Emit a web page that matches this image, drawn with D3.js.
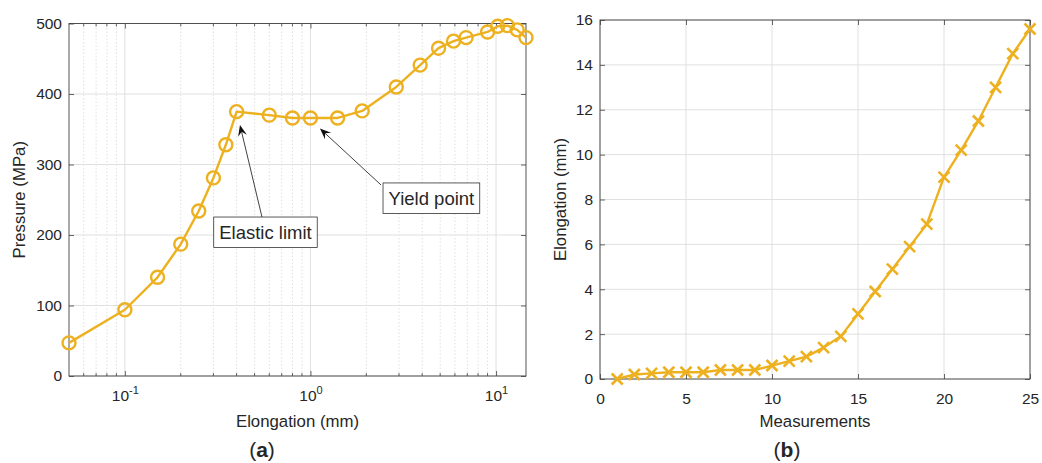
<!DOCTYPE html>
<html>
<head>
<meta charset="utf-8">
<script src="https://cdn.jsdelivr.net/npm/d3@7"></script>
<style>
  body { margin: 0; background: #fff; }
  svg { display: block; }
  text { font-family: "Liberation Sans", Arial, sans-serif; fill: #262626; }
</style>
</head>
<body>
<div id="chart"></div>
<script>
// Panel (a): pressure vs elongation (log x)
const elongA = [0.05, 0.1, 0.15, 0.2, 0.25, 0.3, 0.35, 0.4, 0.6, 0.8, 1.0, 1.4, 1.9,
  2.9, 3.9, 4.9, 5.9, 6.9, 9.0, 10.2, 11.5, 13.0, 14.5];
const pressure = [47, 94, 140, 187, 234, 281, 328, 375, 370, 366, 366, 366, 376,
  410, 441, 465, 475, 480, 488, 496, 497, 491, 480];

// Panel (b): elongation per measurement
const measurements = [1, 2, 3, 4, 5, 6, 7, 8, 9, 10, 11, 12, 13, 14, 15, 16, 17, 18, 19, 20, 21, 22, 23, 24, 25];
const elongB = [0, 0.2, 0.25, 0.3, 0.3, 0.3, 0.4, 0.4, 0.4, 0.6, 0.8, 1.0, 1.4, 1.9,
  2.9, 3.9, 4.9, 5.9, 6.9, 9.0, 10.2, 11.5, 13.0, 14.5, 15.6];

// ticks
const pressureTicks = [0, 100, 200, 300, 400, 500];
const logTicks = [0.1, 1, 10];
const logTickLabels = [["10", "-1"], ["10", "0"], ["10", "1"]];
const minorLogTicks = [0.06, 0.07, 0.08, 0.09, 0.2, 0.3, 0.4, 0.5, 0.6, 0.7, 0.8, 0.9,
  2, 3, 4, 5, 6, 7, 8, 9];
const measTicks = [0, 5, 10, 15, 20, 25];
const elongTicks = [0, 2, 4, 6, 8, 10, 12, 14, 16];

// annotations (data coords of arrow tip and tail)
const notes = [
  { text: "Elastic limit", tip: [0.417, 356], tail: [0.548, 225.5], anchor: "top-center" },
  { text: "Yield point", tip: [1.125, 351], tail: [2.4, 271], anchor: "top-left" }
];

const W = 1042, H = 463;
const color = "#EDB120";
const axisColor = "#404040";
const tickFont = 15.5, labelFont = 16.8;

const svg = d3.select("#chart").append("svg")
  .attr("width", W).attr("height", H);

function frame(g, x, y, opts) {
  const [x0, x1] = x.range();
  const [y0, y1] = y.range(); // y0 bottom, y1 top

  // grid
  const grid = g.append("g");
  if (opts.minorX) {
    grid.selectAll("line.minor").data(opts.minorX).enter().append("line")
      .attr("x1", d => x(d)).attr("x2", d => x(d))
      .attr("y1", y0).attr("y2", y1)
      .attr("stroke", "#d2d2d2").attr("stroke-width", 0.7)
      .attr("stroke-dasharray", "1.5,2");
  }
  grid.selectAll("line.gx").data(opts.xTicks).enter().append("line")
    .attr("x1", d => x(d)).attr("x2", d => x(d))
    .attr("y1", y0).attr("y2", y1)
    .attr("stroke", "#e0e0e0").attr("stroke-width", 1);
  grid.selectAll("line.gy").data(opts.yTicks).enter().append("line")
    .attr("x1", x0).attr("x2", x1)
    .attr("y1", d => y(d)).attr("y2", d => y(d))
    .attr("stroke", "#e0e0e0").attr("stroke-width", 1);

  // axes with inward ticks (bottom/left labelled, top/right mirrored)
  const tl = 5;
  const bottom = g.append("g").attr("transform", `translate(0,${y0})`)
    .call(d3.axisBottom(x).tickValues(opts.xTicks).tickSizeInner(-tl).tickSizeOuter(0).tickFormat(opts.xFormat || d3.format("d")));
  const top = g.append("g").attr("transform", `translate(0,${y1})`)
    .call(d3.axisTop(x).tickValues(opts.xTicks).tickSizeInner(-tl).tickSizeOuter(0).tickFormat(""));
  const left = g.append("g").attr("transform", `translate(${x0},0)`)
    .call(d3.axisLeft(y).tickValues(opts.yTicks).tickSizeInner(-tl).tickSizeOuter(0).tickFormat(d3.format("d")));
  const right = g.append("g").attr("transform", `translate(${x1},0)`)
    .call(d3.axisRight(y).tickValues(opts.yTicks).tickSizeInner(-tl).tickSizeOuter(0).tickFormat(""));

  [bottom, top, left, right].forEach(a => {
    a.select(".domain").remove();
    a.selectAll(".tick line").attr("stroke", axisColor).attr("stroke-width", 0.8);
    a.selectAll("text").attr("font-size", tickFont).attr("fill", "#262626")
      .attr("font-family", "Liberation Sans, Arial, sans-serif");
  });
  bottom.selectAll("text").attr("y", 20).attr("dy", "0.32em");
  left.selectAll("text").attr("x", -7);

  if (opts.minorX) {
    [[y0, -3], [y1, 3]].forEach(([yy, len]) => {
      g.append("g").selectAll("line").data(opts.minorX).enter().append("line")
        .attr("x1", d => x(d)).attr("x2", d => x(d))
        .attr("y1", yy).attr("y2", yy + len)
        .attr("stroke", axisColor).attr("stroke-width", 0.8);
    });
  }

  // box
  g.append("rect")
    .attr("x", x0).attr("y", y1)
    .attr("width", x1 - x0).attr("height", y0 - y1)
    .attr("fill", "none").attr("stroke", axisColor).attr("stroke-width", 0.9);

  return bottom;
}

// ---------- panel (a)
const xa = d3.scaleLog().domain([0.05, 14.5]).range([69, 526]);
const ya = d3.scaleLinear().domain([0, 500]).range([376, 23.5]);
const ga = svg.append("g");
const botA = frame(ga, xa, ya, { xTicks: logTicks, yTicks: pressureTicks, minorX: minorLogTicks });

// superscript log labels
botA.selectAll(".tick text").each(function(d, i) {
  const t = d3.select(this).text(null);
  t.append("tspan").text(logTickLabels[i][0]);
  t.append("tspan").attr("font-size", 11).attr("dy", "-0.6em").text(logTickLabels[i][1]);
});

const ptsA = elongA.map((e, i) => [e, pressure[i]]);
ga.append("path").datum(ptsA)
  .attr("fill", "none").attr("stroke", color).attr("stroke-width", 2.4)
  .attr("stroke-linejoin", "round")
  .attr("d", d3.line().x(d => xa(d[0])).y(d => ya(d[1])));
ga.selectAll("circle.m").data(ptsA).enter().append("circle")
  .attr("cx", d => xa(d[0])).attr("cy", d => ya(d[1])).attr("r", 6.5)
  .attr("fill", "none").attr("stroke", color).attr("stroke-width", 2.4);

ga.append("text").attr("x", 297.5).attr("y", 426.5).attr("text-anchor", "middle")
  .attr("font-size", labelFont).text("Elongation (mm)");
ga.append("text").attr("transform", `translate(25,${(376 + 23.5) / 2}) rotate(-90)`)
  .attr("text-anchor", "middle").attr("font-size", labelFont).text("Pressure (MPa)");

// annotations
notes.forEach(n => {
  const tx = xa(n.tip[0]), ty = ya(n.tip[1]);
  const sx = xa(n.tail[0]), sy = ya(n.tail[1]);
  const ang = Math.atan2(ty - sy, tx - sx);
  const hl = 11, hw = 4.5, notch = 7;
  const ux = Math.cos(ang), uy = Math.sin(ang);
  const px = -uy, py = ux;
  ga.append("line").attr("x1", sx).attr("y1", sy)
    .attr("x2", tx - ux * notch).attr("y2", ty - uy * notch)
    .attr("stroke", "#111").attr("stroke-width", 0.8);
  const head = [
    [tx, ty],
    [tx - ux * hl + px * hw, ty - uy * hl + py * hw],
    [tx - ux * notch, ty - uy * notch],
    [tx - ux * hl - px * hw, ty - uy * hl - py * hw]
  ];
  ga.append("path").attr("d", "M" + head.map(p => p.join(",")).join("L") + "Z")
    .attr("fill", "#111");

  const label = ga.append("text").attr("font-size", 18.5).text(n.text);
  const bw = label.node().getComputedTextLength() + 11;
  const bh = 30.5;
  const bx = n.anchor === "top-center" ? sx - bw / 2 + 3.5 : sx + 2;
  const by = n.anchor === "top-center" ? sy : sy - 2;
  ga.insert("rect", () => label.node())
    .attr("x", bx).attr("y", by).attr("width", bw).attr("height", bh)
    .attr("fill", "#fff").attr("stroke", "#333").attr("stroke-width", 0.8);
  label.attr("x", bx + bw / 2).attr("y", by + bh / 2).attr("dy", "0.36em")
    .attr("text-anchor", "middle").attr("fill", "#000");
});

// ---------- panel (b)
const xb = d3.scaleLinear().domain([0, 25]).range([600, 1030]);
const yb = d3.scaleLinear().domain([0, 16]).range([379, 20]);
const gb = svg.append("g");
frame(gb, xb, yb, { xTicks: measTicks, yTicks: elongTicks });

const ptsB = measurements.map((m, i) => [m, elongB[i]]);
gb.append("path").datum(ptsB)
  .attr("fill", "none").attr("stroke", color).attr("stroke-width", 2.4)
  .attr("stroke-linejoin", "round")
  .attr("d", d3.line().x(d => xb(d[0])).y(d => yb(d[1])));
const s = 5.5;
gb.selectAll("path.x").data(ptsB).enter().append("path")
  .attr("d", d => {
    const cx = xb(d[0]), cy = yb(d[1]);
    return `M${cx - s},${cy - s}L${cx + s},${cy + s}M${cx - s},${cy + s}L${cx + s},${cy - s}`;
  })
  .attr("stroke", color).attr("stroke-width", 2.6).attr("fill", "none");

gb.append("text").attr("x", 815).attr("y", 426.5).attr("text-anchor", "middle")
  .attr("font-size", labelFont).text("Measurements");
gb.append("text").attr("transform", `translate(566,${(379 + 20) / 2}) rotate(-90)`)
  .attr("text-anchor", "middle").attr("font-size", labelFont).text("Elongation (mm)");

// panel captions
[["a", 262], ["b", 787]].forEach(([c, x]) => {
  const t = svg.append("text").attr("x", x).attr("y", 457).attr("text-anchor", "middle")
    .attr("font-family", "Liberation Serif, serif").attr("font-size", 21).attr("fill", "#000");
  t.append("tspan").text("(");
  t.append("tspan").attr("font-weight", "bold").text(c);
  t.append("tspan").text(")");
});
</script>
</body>
</html>
